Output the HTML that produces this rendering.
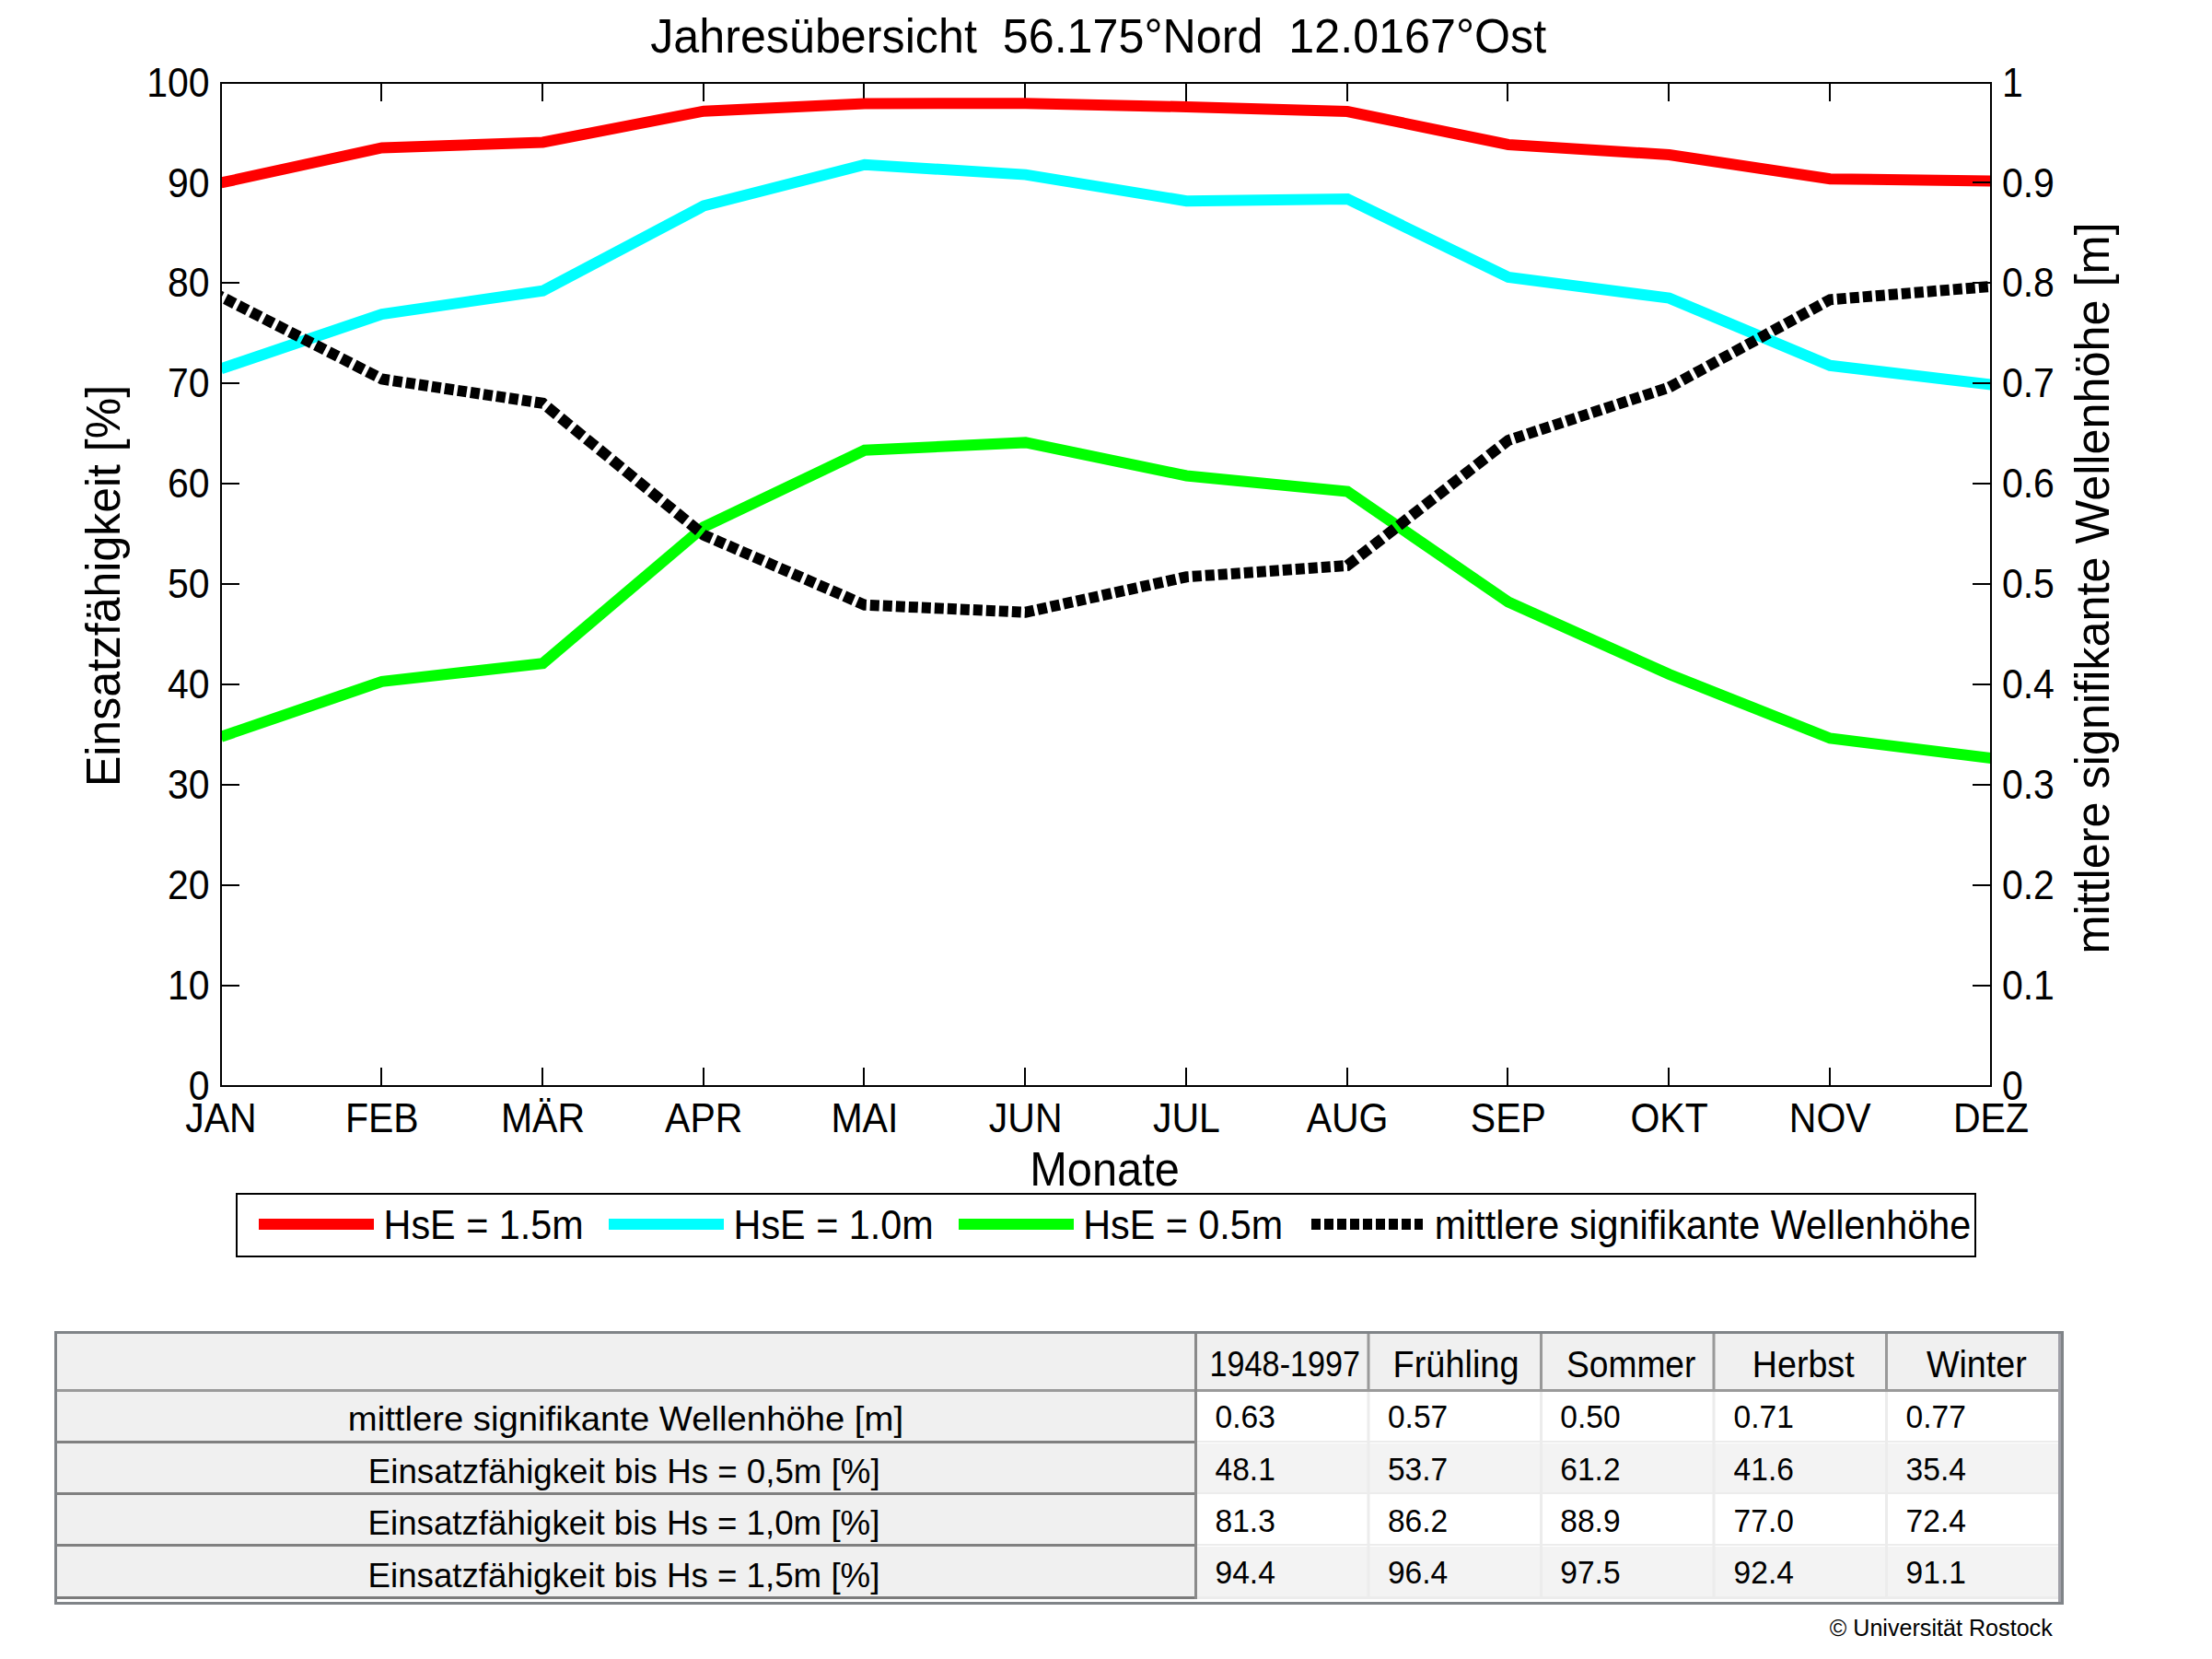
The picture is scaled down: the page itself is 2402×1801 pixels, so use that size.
<!DOCTYPE html><html><head><meta charset="utf-8"><style>html,body{margin:0;padding:0;background:#fff;width:2402px;height:1801px;overflow:hidden}svg text{font-family:"Liberation Sans",sans-serif;white-space:pre}</style></head><body><svg width="2402" height="1801" viewBox="0 0 2402 1801" style="position:absolute;left:0;top:0"><rect x="0" y="0" width="2402" height="1801" fill="#fff"/><g font-family="Liberation Sans, sans-serif"><text transform="matrix(1.0050,0,0,1.0500,706.20,57.00)" font-size="50">Jahresübersicht  56.175°Nord  12.0167°Ost</text><path d="M240.0,1070.00H260.0 M240.0,961.00H260.0 M240.0,852.00H260.0 M240.0,743.00H260.0 M240.0,634.00H260.0 M240.0,525.00H260.0 M240.0,416.00H260.0 M240.0,307.00H260.0 M240.0,198.00H260.0 M414.00,90.0V110.0 M414.00,1179.0V1159.0 M589.00,90.0V110.0 M589.00,1179.0V1159.0 M764.00,90.0V110.0 M764.00,1179.0V1159.0 M938.00,90.0V110.0 M938.00,1179.0V1159.0 M1113.00,90.0V110.0 M1113.00,1179.0V1159.0 M1288.00,90.0V110.0 M1288.00,1179.0V1159.0 M1463.00,90.0V110.0 M1463.00,1179.0V1159.0 M1637.00,90.0V110.0 M1637.00,1179.0V1159.0 M1812.00,90.0V110.0 M1812.00,1179.0V1159.0 M1987.00,90.0V110.0 M1987.00,1179.0V1159.0" stroke="#000" stroke-width="2" fill="none"/><defs><clipPath id="pc"><rect x="240" y="90" width="1922" height="1089"/></clipPath></defs><g clip-path="url(#pc)" fill="none" stroke-linejoin="miter" stroke-miterlimit="4"><polyline points="240.00,198.50 414.73,160.50 589.45,154.50 764.18,120.70 938.91,112.40 1113.64,112.20 1288.36,116.00 1463.09,121.00 1637.82,157.00 1812.55,168.00 1987.27,194.20 2162.00,196.50" stroke="#ff0000" stroke-width="12"/><polyline points="240.00,400.30 414.73,341.00 589.45,315.80 764.18,223.50 938.91,178.80 1113.64,189.60 1288.36,218.20 1463.09,215.90 1637.82,301.00 1812.55,323.60 1987.27,396.80 2162.00,417.50" stroke="#00ffff" stroke-width="12"/><polyline points="240.00,799.80 414.73,739.90 589.45,720.20 764.18,572.10 938.91,488.80 1113.64,480.40 1288.36,516.50 1463.09,533.60 1637.82,653.50 1812.55,732.00 1987.27,801.50 2162.00,823.00" stroke="#00ff00" stroke-width="12"/><path d="M238.00,320.98L240.00,322.00L240.80,322.41 M244.80,324.46L254.80,329.58 M258.80,331.63L268.80,336.75 M272.80,338.80L282.80,343.92 M286.80,345.97L296.80,351.09 M300.80,353.14L310.80,358.27 M314.80,360.31L324.80,365.44 M328.80,367.49L338.80,372.61 M342.80,374.66L352.80,379.78 M356.80,381.83L366.80,386.95 M370.80,389.00L380.80,394.12 M384.80,396.17L394.80,401.29 M398.80,403.34L408.80,408.46 M412.80,410.51L414.73,411.50L422.80,412.72 M426.80,413.32L436.80,414.82 M440.80,415.42L450.80,416.93 M454.80,417.53L464.80,419.04 M468.80,419.64L478.80,421.14 M482.80,421.75L492.80,423.25 M496.80,423.85L506.80,425.36 M510.80,425.96L520.80,427.47 M524.80,428.07L534.80,429.57 M538.80,430.18L548.80,431.68 M552.80,432.28L562.80,433.79 M566.80,434.39L576.80,435.90 M580.80,436.50L589.45,437.80L590.80,438.90 M594.80,442.17L604.80,450.36 M608.80,453.63L618.80,461.82 M622.80,465.09L632.80,473.27 M636.80,476.55L646.80,484.73 M650.80,488.01L660.80,496.19 M664.80,499.46L674.80,507.65 M678.80,510.92L688.80,519.11 M692.80,522.38L702.80,530.56 M706.80,533.84L716.80,542.02 M720.80,545.30L730.80,553.48 M734.80,556.75L744.80,564.94 M748.80,568.21L758.80,576.40 M762.80,579.67L764.18,580.80L772.80,584.54 M776.80,586.28L786.80,590.63 M790.80,592.36L800.80,596.71 M804.80,598.44L814.80,602.79 M818.80,604.53L828.80,608.87 M832.80,610.61L842.80,614.95 M846.80,616.69L856.80,621.03 M860.80,622.77L870.80,627.11 M874.80,628.85L884.80,633.20 M888.80,634.93L898.80,639.28 M902.80,641.01L912.80,645.36 M916.80,647.10L926.80,651.44 M930.80,653.18L938.91,656.70L940.80,656.79 M944.80,656.97L954.80,657.43 M958.80,657.61L968.80,658.07 M972.80,658.25L982.80,658.71 M986.80,658.89L996.80,659.35 M1000.80,659.53L1010.80,659.99 M1014.80,660.17L1024.80,660.63 M1028.80,660.82L1038.80,661.27 M1042.80,661.46L1052.80,661.91 M1056.80,662.10L1066.80,662.56 M1070.80,662.74L1080.80,663.20 M1084.80,663.38L1094.80,663.84 M1098.80,664.02L1108.80,664.48 M1112.80,664.66L1113.64,664.70L1122.80,662.69 M1126.80,661.81L1136.80,659.61 M1140.80,658.73L1150.80,656.53 M1154.80,655.65L1164.80,653.46 M1168.80,652.58L1178.80,650.38 M1182.80,649.50L1192.80,647.30 M1196.80,646.42L1206.80,644.23 M1210.80,643.35L1220.80,641.15 M1224.80,640.27L1234.80,638.07 M1238.80,637.19L1248.80,634.99 M1252.80,634.12L1262.80,631.92 M1266.80,631.04L1276.80,628.84 M1280.80,627.96L1288.36,626.30L1290.80,626.13 M1294.80,625.85L1304.80,625.14 M1308.80,624.86L1318.80,624.16 M1322.80,623.88L1332.80,623.17 M1336.80,622.89L1346.80,622.19 M1350.80,621.90L1360.80,621.20 M1364.80,620.92L1374.80,620.22 M1378.80,619.93L1388.80,619.23 M1392.80,618.95L1402.80,618.24 M1406.80,617.96L1416.80,617.26 M1420.80,616.98L1430.80,616.27 M1434.80,615.99L1444.80,615.29 M1448.80,615.01L1458.80,614.30 M1462.80,614.02L1463.09,614.00L1472.80,606.44 M1476.80,603.33L1486.80,595.55 M1490.80,592.43L1500.80,584.65 M1504.80,581.54L1514.80,573.75 M1518.80,570.64L1528.80,562.85 M1532.80,559.74L1542.80,551.96 M1546.80,548.84L1556.80,541.06 M1560.80,537.95L1570.80,530.16 M1574.80,527.05L1584.80,519.27 M1588.80,516.15L1598.80,508.37 M1602.80,505.26L1612.80,497.47 M1616.80,494.36L1626.80,486.58 M1630.80,483.46L1637.82,478.00L1640.80,477.02 M1644.80,475.70L1654.80,472.41 M1658.80,471.10L1668.80,467.80 M1672.80,466.49L1682.80,463.20 M1686.80,461.88L1696.80,458.59 M1700.80,457.27L1710.80,453.98 M1714.80,452.67L1724.80,449.38 M1728.80,448.06L1738.80,444.77 M1742.80,443.45L1752.80,440.16 M1756.80,438.84L1766.80,435.55 M1770.80,434.24L1780.80,430.95 M1784.80,429.63L1794.80,426.34 M1798.80,425.02L1808.80,421.73 M1812.80,420.36L1822.80,414.91 M1826.80,412.73L1836.80,407.28 M1840.80,405.11L1850.80,399.66 M1854.80,397.48L1864.80,392.03 M1868.80,389.85L1878.80,384.40 M1882.80,382.22L1892.80,376.77 M1896.80,374.59L1906.80,369.15 M1910.80,366.97L1920.80,361.52 M1924.80,359.34L1934.80,353.89 M1938.80,351.71L1948.80,346.26 M1952.80,344.08L1962.80,338.63 M1966.80,336.45L1976.80,331.01 M1980.80,328.83L1987.27,325.30L1990.80,325.01 M1994.80,324.68L2004.80,323.87 M2008.80,323.54L2018.80,322.72 M2022.80,322.39L2032.80,321.57 M2036.80,321.25L2046.80,320.43 M2050.80,320.10L2060.80,319.28 M2064.80,318.96L2074.80,318.14 M2078.80,317.81L2088.80,316.99 M2092.80,316.66L2102.80,315.85 M2106.80,315.52L2116.80,314.70 M2120.80,314.37L2130.80,313.55 M2134.80,313.23L2144.80,312.41 M2148.80,312.08L2158.80,311.26" stroke="#000" stroke-width="12" stroke-linecap="butt" stroke-linejoin="miter"/></g><path d="M2162.0,1070.00H2142.0 M2162.0,961.00H2142.0 M2162.0,852.00H2142.0 M2162.0,743.00H2142.0 M2162.0,634.00H2142.0 M2162.0,525.00H2142.0 M2162.0,416.00H2142.0 M2162.0,307.00H2142.0 M2162.0,198.00H2142.0" stroke="#000" stroke-width="2" fill="none"/><rect x="240.0" y="90.0" width="1922.0" height="1089.0" fill="none" stroke="#000" stroke-width="2"/><text transform="matrix(1.0000,0,0,1.0700,204.80,1193.60)" font-size="41">0</text><text transform="matrix(1,0,0,1.07,2173.90,1193.60)" font-size="41">0</text><text transform="matrix(1.0000,0,0,1.0700,182.00,1084.70)" font-size="41">10</text><text transform="matrix(1,0,0,1.07,2173.90,1084.70)" font-size="41">0.1</text><text transform="matrix(1.0000,0,0,1.0700,182.00,975.80)" font-size="41">20</text><text transform="matrix(1,0,0,1.07,2173.90,975.80)" font-size="41">0.2</text><text transform="matrix(1.0000,0,0,1.0700,182.00,866.90)" font-size="41">30</text><text transform="matrix(1,0,0,1.07,2173.90,866.90)" font-size="41">0.3</text><text transform="matrix(1.0000,0,0,1.0700,182.00,758.00)" font-size="41">40</text><text transform="matrix(1,0,0,1.07,2173.90,758.00)" font-size="41">0.4</text><text transform="matrix(1.0000,0,0,1.0700,182.00,649.10)" font-size="41">50</text><text transform="matrix(1,0,0,1.07,2173.90,649.10)" font-size="41">0.5</text><text transform="matrix(1.0000,0,0,1.0700,182.00,540.20)" font-size="41">60</text><text transform="matrix(1,0,0,1.07,2173.90,540.20)" font-size="41">0.6</text><text transform="matrix(1.0000,0,0,1.0700,182.00,431.30)" font-size="41">70</text><text transform="matrix(1,0,0,1.07,2173.90,431.30)" font-size="41">0.7</text><text transform="matrix(1.0000,0,0,1.0700,182.00,322.40)" font-size="41">80</text><text transform="matrix(1,0,0,1.07,2173.90,322.40)" font-size="41">0.8</text><text transform="matrix(1.0000,0,0,1.0700,182.00,213.50)" font-size="41">90</text><text transform="matrix(1,0,0,1.07,2173.90,213.50)" font-size="41">0.9</text><text transform="matrix(1.0000,0,0,1.0700,159.19,104.60)" font-size="41">100</text><text transform="matrix(1,0,0,1.07,2173.90,104.60)" font-size="41">1</text><text transform="matrix(1,0,0,1.07,240.00,1229.2)" font-size="41" text-anchor="middle">JAN</text><text transform="matrix(1,0,0,1.07,414.73,1229.2)" font-size="41" text-anchor="middle">FEB</text><text transform="matrix(1,0,0,1.07,589.45,1229.2)" font-size="41" text-anchor="middle">MÄR</text><text transform="matrix(1,0,0,1.07,764.18,1229.2)" font-size="41" text-anchor="middle">APR</text><text transform="matrix(1,0,0,1.07,938.91,1229.2)" font-size="41" text-anchor="middle">MAI</text><text transform="matrix(1,0,0,1.07,1113.64,1229.2)" font-size="41" text-anchor="middle">JUN</text><text transform="matrix(1,0,0,1.07,1288.36,1229.2)" font-size="41" text-anchor="middle">JUL</text><text transform="matrix(1,0,0,1.07,1463.09,1229.2)" font-size="41" text-anchor="middle">AUG</text><text transform="matrix(1,0,0,1.07,1637.82,1229.2)" font-size="41" text-anchor="middle">SEP</text><text transform="matrix(1,0,0,1.07,1812.55,1229.2)" font-size="41" text-anchor="middle">OKT</text><text transform="matrix(1,0,0,1.07,1987.27,1229.2)" font-size="41" text-anchor="middle">NOV</text><text transform="matrix(1,0,0,1.07,2162.00,1229.2)" font-size="41" text-anchor="middle">DEZ</text><text transform="matrix(0.9760,0,0,1.0500,1118.20,1287.00)" font-size="50">Monate</text><text transform="translate(130,636) rotate(-90) scale(1,1.05)" font-size="50" text-anchor="middle">Einsatzfähigkeit [%]</text><text transform="translate(2290,638.5) rotate(-90) scale(1.0077,1.05)" font-size="50" text-anchor="middle">mittlere signifikante Wellenhöhe [m]</text><rect x="257" y="1296" width="1888" height="68" fill="#fff" stroke="#000" stroke-width="2"/><path d="M281,1329H406" stroke="#ff0000" stroke-width="12"/><text transform="matrix(1.0080,0,0,1.0700,416.61,1345.00)" font-size="41">HsE = 1.5m</text><path d="M661,1329H786" stroke="#00ffff" stroke-width="12"/><text transform="matrix(1.0080,0,0,1.0700,796.61,1345.00)" font-size="41">HsE = 1.0m</text><path d="M1041,1329H1166" stroke="#00ff00" stroke-width="12"/><text transform="matrix(1.0080,0,0,1.0700,1176.21,1345.00)" font-size="41">HsE = 0.5m</text><path d="M1424,1329H1545" stroke="#000" stroke-width="12" stroke-dasharray="10 4"/><text transform="matrix(1.0080,0,0,1.0700,1557.66,1345.00)" font-size="41">mittlere signifikante Wellenhöhe</text></g><g><rect x="59" y="1445" width="2183" height="297" fill="#fff"/><rect x="62" y="1448" width="2176" height="60" fill="#f0f0f0"/><rect x="62" y="1448" width="1235" height="288" fill="#f0f0f0"/><rect x="1300" y="1511" width="935" height="54" fill="#ffffff"/><rect x="1300" y="1567" width="935" height="54" fill="#f3f3f3"/><rect x="1300" y="1623" width="935" height="54" fill="#ffffff"/><rect x="1300" y="1679" width="935" height="54" fill="#f3f3f3"/><rect x="1484.5" y="1511" width="3" height="222" fill="#ececec"/><rect x="1672.0" y="1511" width="3" height="222" fill="#ececec"/><rect x="1859.5" y="1511" width="3" height="222" fill="#ececec"/><rect x="2047.0" y="1511" width="3" height="222" fill="#ececec"/><rect x="1300" y="1564" width="935" height="2" fill="#ececec"/><rect x="1300" y="1620" width="935" height="2" fill="#ececec"/><rect x="1300" y="1676" width="935" height="2" fill="#ececec"/><rect x="1484.5" y="1448" width="3" height="60" fill="#999"/><rect x="1672.0" y="1448" width="3" height="60" fill="#999"/><rect x="1859.5" y="1448" width="3" height="60" fill="#999"/><rect x="2047.0" y="1448" width="3" height="60" fill="#999"/><rect x="62" y="1508" width="2176" height="3" fill="#9a9a9a"/><rect x="62" y="1564" width="1235" height="3" fill="#808080"/><rect x="62" y="1620" width="1235" height="3" fill="#808080"/><rect x="62" y="1676" width="1235" height="3" fill="#808080"/><rect x="62" y="1733" width="1238" height="3" fill="#7b7b7b"/><rect x="1297" y="1448" width="3" height="288" fill="#8a8a8a"/><rect x="1300" y="1733" width="935" height="3" fill="#ececec"/><rect x="2235" y="1448" width="3" height="291" fill="#a0a0a8"/><rect x="60.5" y="1446.5" width="2179" height="294" fill="none" stroke="#808488" stroke-width="3"/></g><g font-family="Liberation Sans, sans-serif"><text transform="matrix(0.8768,0,0,1.0000,1313.60,1494.20)" font-size="39" fill="#000">1948-1997</text><text transform="matrix(0.9477,0,0,1.0000,1512.59,1494.50)" font-size="40" fill="#000">Frühling</text><text transform="matrix(0.9290,0,0,1.0000,1701.01,1494.50)" font-size="40" fill="#000">Sommer</text><text transform="matrix(0.9410,0,0,1.0000,1902.81,1494.70)" font-size="40" fill="#000">Herbst</text><text transform="matrix(0.9414,0,0,1.0000,2091.93,1494.70)" font-size="40" fill="#000">Winter</text><text transform="matrix(1.0207,0,0,1.0000,377.76,1553.40)" font-size="37.5" fill="#000">mittlere signifikante Wellenhöhe [m]</text><text transform="matrix(0.9712,0,0,1.0000,399.79,1609.80)" font-size="37.8" fill="#000">Einsatzfähigkeit bis Hs = 0,5m [%]</text><text transform="matrix(0.9714,0,0,1.0000,399.49,1666.10)" font-size="37.8" fill="#000">Einsatzfähigkeit bis Hs = 1,0m [%]</text><text transform="matrix(0.9714,0,0,1.0000,399.49,1722.50)" font-size="37.8" fill="#000">Einsatzfähigkeit bis Hs = 1,5m [%]</text><text transform="matrix(0.97,0,0,1,1319.50,1550.20)" font-size="34.6">0.63</text><text transform="matrix(0.97,0,0,1,1506.90,1550.20)" font-size="34.6">0.57</text><text transform="matrix(0.97,0,0,1,1694.30,1550.20)" font-size="34.6">0.50</text><text transform="matrix(0.97,0,0,1,1882.60,1550.20)" font-size="34.6">0.71</text><text transform="matrix(0.97,0,0,1,2069.60,1550.20)" font-size="34.6">0.77</text><text transform="matrix(0.97,0,0,1,1319.50,1606.50)" font-size="34.6">48.1</text><text transform="matrix(0.97,0,0,1,1506.90,1606.50)" font-size="34.6">53.7</text><text transform="matrix(0.97,0,0,1,1694.30,1606.50)" font-size="34.6">61.2</text><text transform="matrix(0.97,0,0,1,1882.60,1606.50)" font-size="34.6">41.6</text><text transform="matrix(0.97,0,0,1,2069.60,1606.50)" font-size="34.6">35.4</text><text transform="matrix(0.97,0,0,1,1319.50,1662.80)" font-size="34.6">81.3</text><text transform="matrix(0.97,0,0,1,1506.90,1662.80)" font-size="34.6">86.2</text><text transform="matrix(0.97,0,0,1,1694.30,1662.80)" font-size="34.6">88.9</text><text transform="matrix(0.97,0,0,1,1882.60,1662.80)" font-size="34.6">77.0</text><text transform="matrix(0.97,0,0,1,2069.60,1662.80)" font-size="34.6">72.4</text><text transform="matrix(0.97,0,0,1,1319.50,1719.10)" font-size="34.6">94.4</text><text transform="matrix(0.97,0,0,1,1506.90,1719.10)" font-size="34.6">96.4</text><text transform="matrix(0.97,0,0,1,1694.30,1719.10)" font-size="34.6">97.5</text><text transform="matrix(0.97,0,0,1,1882.60,1719.10)" font-size="34.6">92.4</text><text transform="matrix(0.97,0,0,1,2069.60,1719.10)" font-size="34.6">91.1</text><text transform="matrix(1.0060,0,0,1.0000,1986.72,1775.80)" font-size="25" fill="#000">© Universität Rostock</text></g></svg></body></html>
